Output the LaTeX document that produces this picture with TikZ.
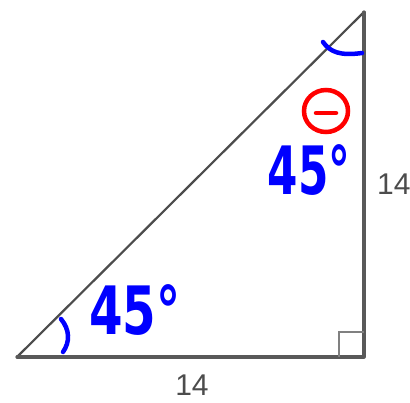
\documentclass[tikz,border=0pt]{standalone}
\usepackage{fontspec}
\setmainfont{Liberation Sans}
\newfontfamily\handfont{DejaVu Sans}
\begin{document}
\begin{tikzpicture}[x=1pt,y=-1pt,
  edge/.style={draw=black!65,line width=3.2pt,line cap=round,line join=round},
  hyp/.style={draw=black!70,line width=2.2pt,line cap=round},
  lbl/.style={font=\fontsize{30}{32}\selectfont,text=black!70,inner sep=0pt},
  hand/.style={text={rgb,255:red,0;green,0;blue,255},inner sep=0pt,font=\handfont\bfseries\fontsize{46}{50}\selectfont,yscale=1.45},
  ink/.style={draw={rgb,255:red,0;green,0;blue,255},line width=4.5pt,line cap=round},
  redink/.style={draw={rgb,255:red,255;green,0;blue,0},line width=4.5pt,line cap=round}]
\useasboundingbox (0,0) rectangle (410,402);
\coordinate (A) at (17,357);
\coordinate (B) at (364,357);
\coordinate (C) at (364,12);
\draw[hyp] (A) -- (C);
\draw[edge] (A) -- (B) -- (C);
\draw[draw=black!50,line width=2.5pt] (339,357) -- (339,332) -- (364,332);
\node[lbl] (b14) at (192,385) {14};
\node[lbl,anchor=west] (r14) at (377,184) {14};
\node[hand,xscale=1.05] (a1) at (135,310) {45°};
\node[hand,xscale=0.95] (a2) at (309,170) {45°};
\draw[ink] (61,319) .. controls (70,330) and (70,342) .. (63,352);
\draw[ink] (323,42) .. controls (330,52) and (340,56) .. (362,53);
\draw[redink] (326,111) ellipse (22 and 21);
\draw[redink] (316,113) -- (336,113);
\end{tikzpicture}
\end{document}
